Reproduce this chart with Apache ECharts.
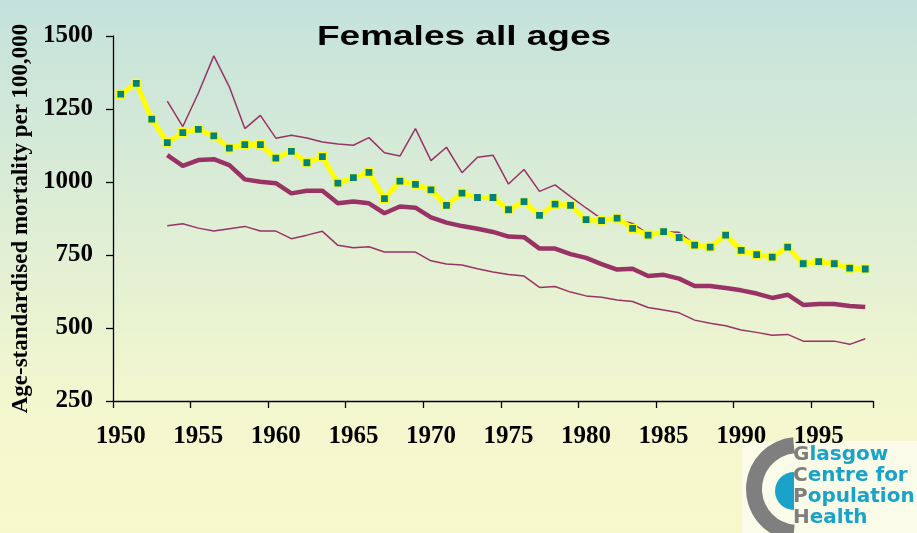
<!DOCTYPE html>
<html>
<head>
<meta charset="utf-8">
<script src="https://cdn.jsdelivr.net/npm/echarts@6/dist/echarts.min.js"></script>
<style>html,body{margin:0;padding:0;}#c{width:917px;height:533px;}</style>
</head>
<body>
<div id="c"></div>
<script>
var years = [];
for (var y = 1950; y <= 1998; y++) years.push(String(y));

var glasgow = [1301,1338,1215,1135,1169,1180,1158,1116,1128,1128,1082,1105,1066,1087,996,1015,1033,943,1003,992,973,920,962,947,947,905,933,886,924,920,871,868,876,841,818,830,810,784,777,818,766,751,743,777,720,727,720,705,702];

var fillerPrefix = [null,null,null];
var scotland = fillerPrefix.concat([1092,1055,1075,1078,1058,1009,1001,996,961,970,970,927,933,927,893,916,912,879,861,849,840,829,813,811,772,772,753,740,719,700,703,678,682,669,644,644,637,629,618,603,614,579,582,582,575,572]);

var upperRange = fillerPrefix.concat([1277,1190,1304,1432,1326,1183,1228,1150,1160,1151,1137,1130,1126,1152,1100,1089,1183,1073,1119,1032,1085,1092,993,1043,968,990,950,911,874,872,858,822,830,828,787,777,818,766,751,743,777,720,727,720,705,702]);

var lowerRange = fillerPrefix.concat([850,857,842,832,840,848,832,832,806,818,831,783,775,778,760,760,760,730,719,716,703,692,683,678,639,642,623,610,605,596,591,570,562,552,527,516,508,493,485,475,478,455,455,455,444,463]);

var yTicks = [250, 500, 750, 1000, 1250, 1500];

var chart = echarts.init(document.getElementById('c'), null, {renderer: 'canvas'});
var purple = '#993366';
var serif = '"Liberation Serif", "Times New Roman", serif';
var logoFont = 'bold 20px "DejaVu Sans", sans-serif';
function logoLine(first, rest, yy) {
  return {type: 'text', x: 793, y: yy, style: {text: '{g|' + first + '}{c|' + rest + '}', verticalAlign: 'middle',
    rich: {g: {fill: '#7f7f7f', font: logoFont}, c: {fill: '#1aa3c8', font: logoFont}}}};
}

chart.setOption({
  animation: false,
  backgroundColor: {
    type: 'linear', x: 0, y: 0, x2: 0, y2: 1,
    colorStops: [
      {offset: 0, color: '#c4e2dc'},
      {offset: 0.75, color: '#f3f7cf'},
      {offset: 1, color: '#f8f9cb'}
    ]
  },
  grid: {left: 113, right: 44, top: 36, bottom: 132, containLabel: false, outerBoundsMode: 'none'},
  xAxis: {
    type: 'category',
    data: years,
    boundaryGap: true,
    axisLine: {show: true, lineStyle: {color: '#000', width: 1.3}},
    axisTick: {show: true, interval: 4, length: 7, lineStyle: {color: '#000', width: 1.3}},
    axisLabel: {interval: 4, fontFamily: serif, fontWeight: 'bold', fontSize: 25, color: '#000', margin: 23},
    splitLine: {show: false}
  },
  yAxis: {
    type: 'value',
    min: yTicks[0], max: yTicks[yTicks.length - 1], interval: 250,
    name: 'Age-standardised mortality per 100,000',
    nameLocation: 'middle',
    nameRotate: 90,
    nameGap: 80,
    nameTextStyle: {fontFamily: serif, fontWeight: 'bold', fontSize: 23, color: '#000'},
    axisLine: {show: true, lineStyle: {color: '#000', width: 1.3}},
    axisTick: {show: true, length: 7, lineStyle: {color: '#000', width: 1.3}},
    axisLabel: {fontFamily: serif, fontWeight: 'bold', fontSize: 25, color: '#000', margin: 20,
      formatter: function (v) { return String(v); }},
    splitLine: {show: false}
  },
  series: [
    {name: 'upper', type: 'line', data: upperRange, showSymbol: false, symbol: 'none',
     lineStyle: {color: purple, width: 1.5}, z: 2},
    {name: 'lower', type: 'line', data: lowerRange, showSymbol: false, symbol: 'none',
     lineStyle: {color: purple, width: 1.5}, z: 2},
    {name: 'Scotland', type: 'line', data: scotland, showSymbol: false, symbol: 'none',
     lineStyle: {color: purple, width: 4.5}, z: 3},
    {name: 'Glasgow', type: 'line', data: glasgow, symbol: 'rect', symbolSize: 8,
     itemStyle: {color: '#008080', borderColor: '#ffff00', borderWidth: 1.2},
     lineStyle: {color: '#ffff00', width: 5}, z: 4}
  ],
  graphic: [
    {type: 'text', x: 464, y: 38, scaleX: 1.37, z: 10,
     style: {text: 'Females all ages', font: 'bold 27px "Liberation Sans", Arial, sans-serif', fill: '#000', align: 'center', verticalAlign: 'middle'}},
    {type: 'group', z: 10, children: [
      {type: 'rect', shape: {x: 742, y: 441, width: 175, height: 92}, style: {fill: '#fbfbe9'}},
      {type: 'sector', shape: {cx: 798, cy: 489, r: 52, r0: 36, startAngle: Math.PI * 0.53, endAngle: Math.PI * 1.47, clockwise: true}, style: {fill: '#7f7f7f'}},
      {type: 'sector', shape: {cx: 794, cy: 491, r: 19, r0: 0, startAngle: Math.PI * 0.5, endAngle: Math.PI * 1.5, clockwise: true}, style: {fill: '#1aa3c8'}},
      logoLine('G', 'lasgow', 455),
      logoLine('C', 'entre for', 476),
      logoLine('P', 'opulation', 497),
      logoLine('H', 'ealth', 518)
    ]}
  ]
});
</script>
</body>
</html>
